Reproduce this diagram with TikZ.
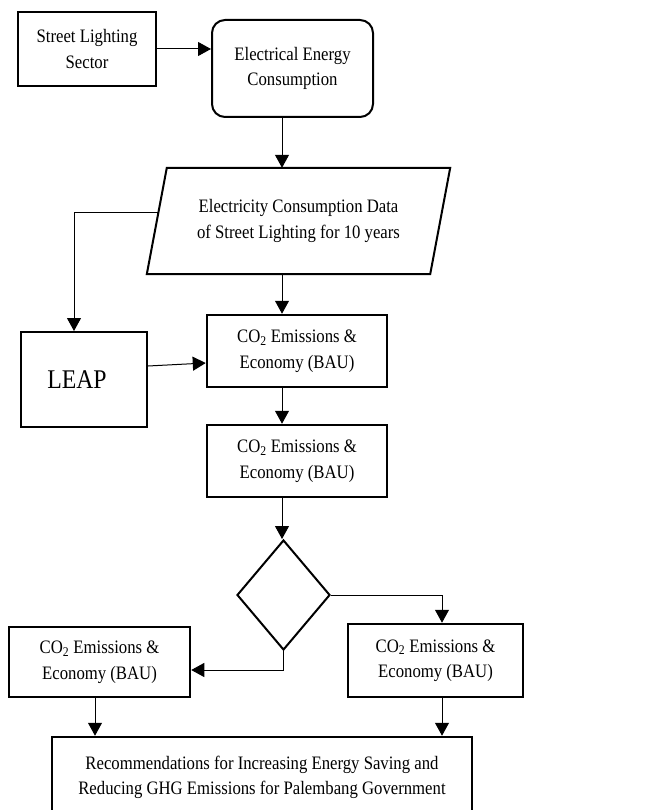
\documentclass[tikz,border=0pt]{standalone}
\usepackage{fontspec}
\setmainfont{Liberation Serif}[FakeStretch=0.88]
\usetikzlibrary{shapes.geometric,arrows.meta}
\begin{document}
\begin{tikzpicture}[x=1pt,y=-1pt,
  txt/.style={font=\fontsize{19}{25.5}\selectfont, align=center, inner sep=0pt},
  thinbox/.style={txt, draw, line width=1.1pt},
  thickbox/.style={txt, draw, line width=2.2pt},
  arr/.style={-{Triangle[length=13pt,width=14pt]}, line width=1pt}]
\clip (0,0) rectangle (664,810);
\fill[white] (0,0) rectangle (664,810);
\coordinate (col) at (282,0);

\node[thinbox, minimum width=138pt, minimum height=74pt] (sector) at (87,49) {Street Lighting\\Sector};
\node[thickbox, line width=2pt, rounded corners=13pt, minimum width=161pt, minimum height=97pt] (energy) at (292.5,68.5) {Electrical Energy\\Consumption};

\node[txt, minimum width=283pt, minimum height=106pt] (data) at (298.5,221) {Electricity Consumption Data\\of Street Lighting for 10 years};
\draw[line width=2pt] ([xshift=10pt]data.north west) -- ([xshift=10pt]data.north east)
  -- ([xshift=-10pt]data.south east) -- ([xshift=-10pt]data.south west) -- cycle;
\coordinate (dl) at (158.5,213);

\node[thickbox, line width=2pt, font=\fontsize{27}{30}\selectfont, minimum width=126pt, minimum height=95pt] (leap) at (84,379.5) {\hspace*{-14pt}LEAP};
\node[thickbox, line width=2.5pt, minimum width=180pt, minimum height=72pt] (b1) at (297,351) {CO\textsubscript{2} Emissions \&\\Economy (BAU)};
\node[thickbox, line width=2.5pt, minimum width=180pt, minimum height=72pt] (b2) at (297,461) {CO\textsubscript{2} Emissions \&\\Economy (BAU)};
\node[draw, diamond, line width=2pt, inner sep=0pt, minimum width=93pt, minimum height=110pt] (dia) at (283.5,595) {};
\node[thickbox, line width=2.5pt, minimum width=181pt, minimum height=70pt] (left) at (99.5,662) {CO\textsubscript{2} Emissions \&\\Economy (BAU)};
\node[thickbox, line width=2.5pt, minimum width=175pt, minimum height=73pt] (right) at (435.5,660.5) {CO\textsubscript{2} Emissions \&\\Economy (BAU)};
\node[thickbox, line width=2.5pt, minimum width=420pt, minimum height=81pt] (rec) at (262,777.5) {Recommendations for Increasing Energy Saving and\\Reducing GHG Emissions for Palembang Government};

\draw[arr] (sector.east) -- (sector.east -| energy.west);
\draw[arr] (energy.south -| col) -- (data.north -| col);
\draw[arr] (dl) -| ([xshift=-10pt]leap.north);
\draw[arr] (data.south -| col) -- (b1.north -| col);
\draw[arr] ([yshift=13.5pt]leap.east) -- ([yshift=-12pt]b1.west);
\draw[arr] (b1.south -| col) -- (b2.north -| col);
\draw[arr] (b2.south -| col) -- (dia.north -| col);
\draw[arr] (dia.east) -| ([xshift=6.5pt]right.north);
\draw[arr] (dia.south) |- ([yshift=-8pt]left.east);
\draw[arr] ([xshift=-4.5pt]left.south) -- ([xshift=-4.5pt]left.south |- rec.north);
\draw[arr] ([xshift=6.5pt]right.south) -- ([xshift=6.5pt]right.south |- rec.north);
\end{tikzpicture}
\end{document}
